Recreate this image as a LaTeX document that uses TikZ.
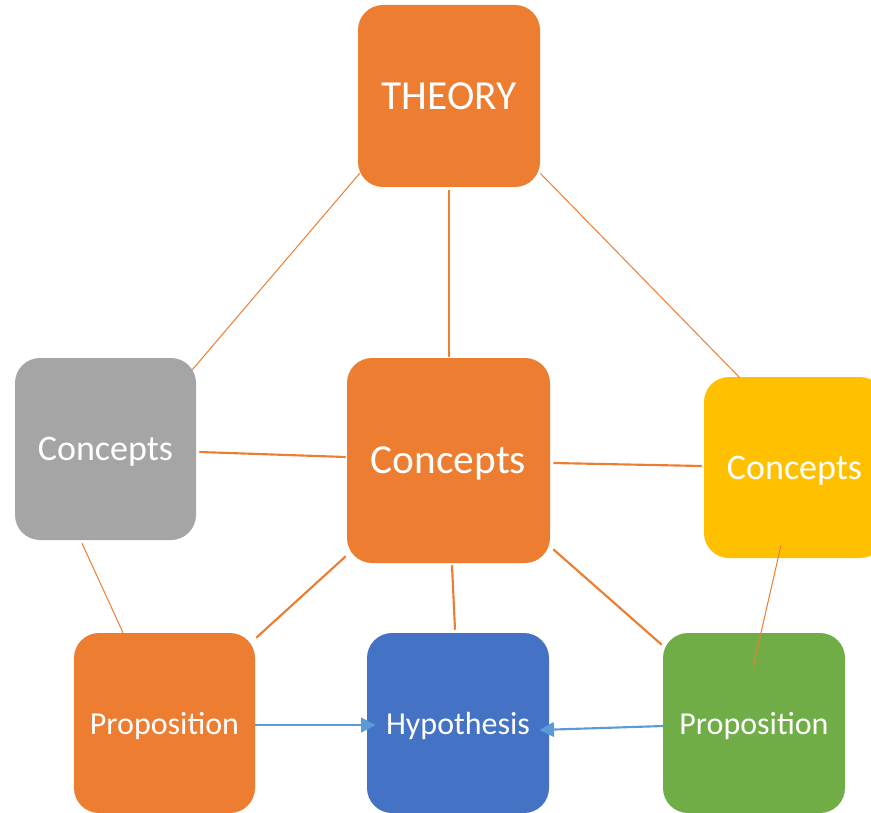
\documentclass[tikz,border=0pt]{standalone}
\usepackage{fontspec}
\setmainfont{Carlito}
\usepackage{xcolor}
\usetikzlibrary{arrows.meta, positioning, calc}

\definecolor{boxorange}{HTML}{ED7D31}
\definecolor{boxgrey}{HTML}{A5A5A5}
\definecolor{boxyellow}{HTML}{FFC000}
\definecolor{boxblue}{HTML}{4472C4}
\definecolor{boxgreen}{HTML}{70AD47}
\definecolor{arrowblue}{HTML}{5B9BD5}

\begin{document}
\begin{tikzpicture}[
    x=0.75pt, y=-0.75pt,
    card/.style={rounded corners=18.75pt, minimum width=136.5pt, minimum height=136.5pt, align=center, text=white, inner sep=0pt, text depth=0pt},
    thinlink/.style={draw=boxorange, line width=0.75pt},
    thicklink/.style={draw=boxorange, line width=1.6pt},
    arrow/.style={draw=arrowblue, line width=1.6pt, -{Triangle[length=11pt, width=11pt]}}
]
    \clip (0,0) rectangle (871,813);

    \node[card, fill=boxorange, font=\fontsize{31}{36}\selectfont] (theory) at (449, 96) {THEORY};
    \node[card, fill=boxgrey, minimum width=135.75pt, font=\fontsize{27}{32}\selectfont] (cgrey) at (105.5, 449) {Concepts};
    \node[card, fill=boxorange, minimum width=152.25pt, minimum height=153.75pt, font=\fontsize{31}{36}\selectfont] (cmid) at (448.5, 460.5) {Concepts};
    \node[card, fill=boxyellow, minimum width=135.75pt, minimum height=135.75pt, font=\fontsize{27}{32}\selectfont] (cyel) at (794.5, 467.5) {Concepts};
    \node[card, fill=boxorange, minimum width=135.75pt, minimum height=135pt, font=\fontsize{24}{28}\selectfont] (propL) at (164.5, 723) {Proposition};
    \node[card, fill=boxblue, minimum width=136.5pt, minimum height=135pt, font=\fontsize{24}{28}\selectfont] (hyp) at (458, 723) {Hypothesis};
    \node[card, fill=boxgreen, minimum width=136.5pt, minimum height=135pt, font=\fontsize{24}{28}\selectfont] (propR) at (754, 723) {Proposition};

    % links from the theory
    \draw[thinlink] ([shift={(2,-14)}]theory.south west) -- ([shift={(-4,12)}]cgrey.north east);
    \draw[thicklink] ([shift={(0,3)}]theory.south) -- ([shift={(0.5,-1)}]cmid.north);
    \draw[thinlink] ([shift={(0,-14)}]theory.south east) -- ([shift={(36,1)}]cyel.north west);

    % links between concepts
    \draw[thicklink] ([shift={(3,3)}]cgrey.east) -- ([shift={(-1,-3.5)}]cmid.west);
    \draw[thicklink] ([shift={(3,2.5)}]cmid.east) -- ([shift={(-2,-1.5)}]cyel.west);

    % links down to the propositions
    \draw[thinlink] ([shift={(-23.5,3)}]cgrey.south) -- ([shift={(-41.5,0)}]propL.north);
    \draw[thicklink] ([shift={(-1,-7)}]cmid.south west) -- ([shift={(1,5)}]propL.north east);
    \draw[thicklink] ([shift={(3.5,2)}]cmid.south) -- ([shift={(-3,-3)}]hyp.north);
    \draw[thicklink] ([shift={(3,-14)}]cmid.south east) -- ([shift={(-1,12)}]propR.north west);
    \draw[thinlink] ([shift={(-13.5,-13)}]cyel.south) -- ([shift={(-1,35)}]propR.north);

    \draw[arrow] ([shift={(0,2)}]propL.east) -- ([shift={(9,2)}]hyp.west);
    \draw[arrow] ([shift={(1,3)}]propR.west) -- ([shift={(-10,7)}]hyp.east);
\end{tikzpicture}
\end{document}
